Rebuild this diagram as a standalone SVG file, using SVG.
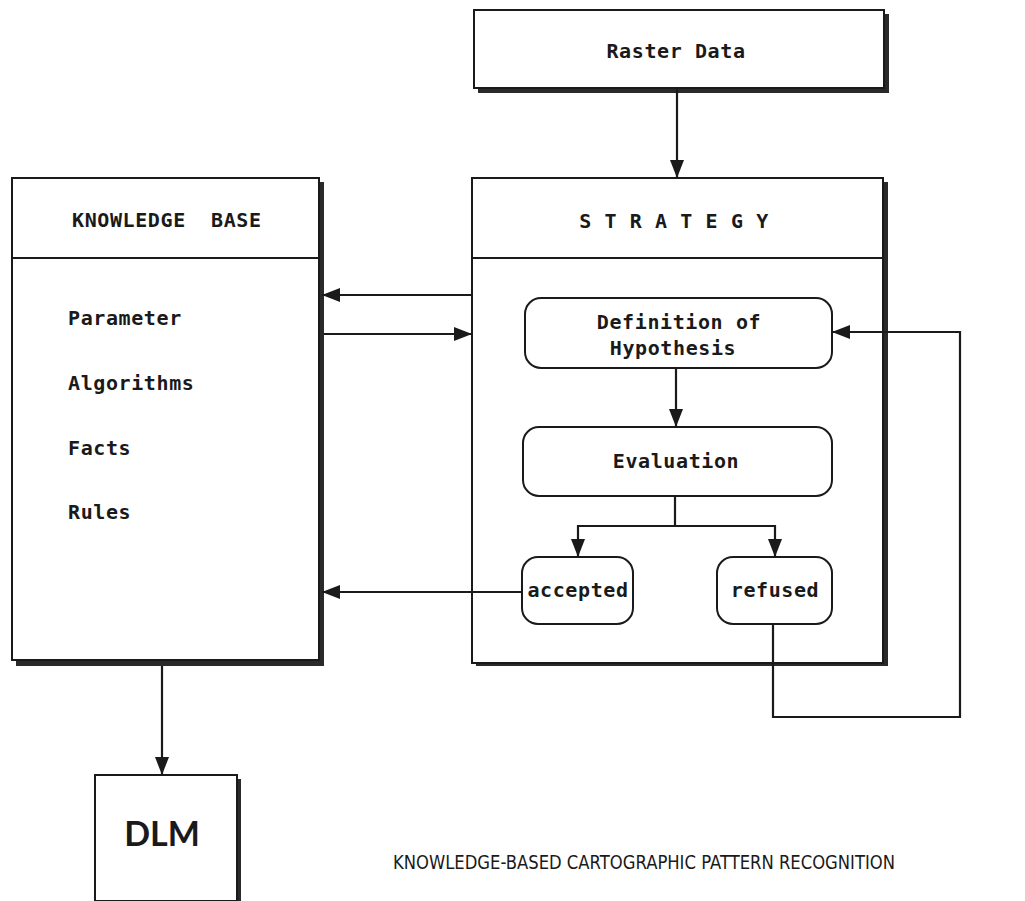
<svg xmlns="http://www.w3.org/2000/svg" width="1025" height="901" viewBox="0 0 1025 901">
<defs>
<marker id="ah" viewBox="0 0 18 14" refX="18" refY="7" markerWidth="18" markerHeight="14" markerUnits="userSpaceOnUse" orient="auto">
<path d="M0,0 L18,7 L0,14 Z" fill="#1a1a1a"/>
</marker>
</defs>
<style>
.box{fill:#fff;stroke:#1a1a1a;stroke-width:2}
.sh{fill:#2a2a2a}
.rb{fill:#fff;stroke:#1a1a1a;stroke-width:2}
.t{font-family:"DejaVu Sans Mono","Liberation Mono",monospace;font-size:20px;font-weight:bold;fill:#1a1a1a;letter-spacing:0.6px}
.c{stroke:#1a1a1a;stroke-width:2.2;fill:none}
</style>
<rect width="1025" height="901" fill="#fff"/>

<g id="raster-data">
<rect class="sh" x="478" y="14" width="411" height="79"/>
<rect class="box" x="474" y="10" width="410" height="78"/>
<text class="t" x="676" y="58" text-anchor="middle">Raster Data</text>
</g>

<g id="knowledge-base">
<rect class="sh" x="16" y="182" width="308" height="484"/>
<rect class="box" x="12" y="178" width="307" height="482"/>
<line x1="12" y1="258" x2="319" y2="258" stroke="#1a1a1a" stroke-width="2"/>
<text class="t" x="72" y="227" xml:space="preserve">KNOWLEDGE  BASE</text>
<text class="t" x="68" y="325">Parameter</text>
<text class="t" x="68" y="390">Algorithms</text>
<text class="t" x="68" y="455">Facts</text>
<text class="t" x="68" y="519">Rules</text>
</g>

<g id="strategy">
<rect class="sh" x="476" y="182" width="412" height="484"/>
<rect class="box" x="472" y="178" width="411" height="485"/>
<line x1="472" y1="258" x2="883" y2="258" stroke="#1a1a1a" stroke-width="2"/>
<text class="t" x="674" y="228" text-anchor="middle">S T R A T E G Y</text>
</g>

<g id="definition-of-hypothesis">
<rect class="rb" x="525" y="298" width="307" height="70" rx="16"/>
<text class="t" x="679" y="329" text-anchor="middle">Definition of</text>
<text class="t" x="673" y="355" text-anchor="middle">Hypothesis</text>
</g>

<g id="evaluation">
<rect class="rb" x="523" y="427" width="309" height="69" rx="16"/>
<text class="t" x="676" y="468" text-anchor="middle">Evaluation</text>
</g>

<g id="accepted">
<rect class="rb" x="522" y="557" width="111" height="67" rx="16"/>
<text class="t" x="578" y="597" text-anchor="middle">accepted</text>
</g>

<g id="refused">
<rect class="rb" x="717" y="557" width="115" height="67" rx="16"/>
<text class="t" x="775" y="597" text-anchor="middle">refused</text>
</g>

<g id="dlm">
<rect class="sh" x="99" y="779" width="142" height="126"/>
<rect class="box" x="95" y="775" width="142" height="126"/>
<text x="162" y="846" text-anchor="middle" font-family="Lato,'Open Sans',sans-serif" font-weight="bold" font-size="34" fill="#1a1a1a">DLM</text>
</g>

<g id="title">
<text transform="translate(393,869) scale(1,1.2)" x="0" y="0" font-family="'DejaVu Sans','Liberation Sans',sans-serif" font-size="16" fill="#1a1a1a" textLength="502" lengthAdjust="spacingAndGlyphs">KNOWLEDGE-BASED CARTOGRAPHIC PATTERN RECOGNITION</text>
</g>

<g id="connectors">
<line class="c" x1="677" y1="89" x2="677" y2="178" marker-end="url(#ah)"/>
<line class="c" x1="472" y1="295" x2="322" y2="295" marker-end="url(#ah)"/>
<line class="c" x1="324" y1="334" x2="472" y2="334" marker-end="url(#ah)"/>
<line class="c" x1="676" y1="368" x2="676" y2="427" marker-end="url(#ah)"/>
<polyline class="c" points="675,496 675,526 578,526 578,557" marker-end="url(#ah)"/>
<polyline class="c" points="675,526 775,526 775,557" marker-end="url(#ah)"/>
<line class="c" x1="522" y1="592" x2="322" y2="592" marker-end="url(#ah)"/>
<polyline class="c" points="773,624 773,717 960,717 960,332 832,332" marker-end="url(#ah)"/>
<line class="c" x1="162" y1="666" x2="162" y2="775" marker-end="url(#ah)"/>
</g>
</svg>
